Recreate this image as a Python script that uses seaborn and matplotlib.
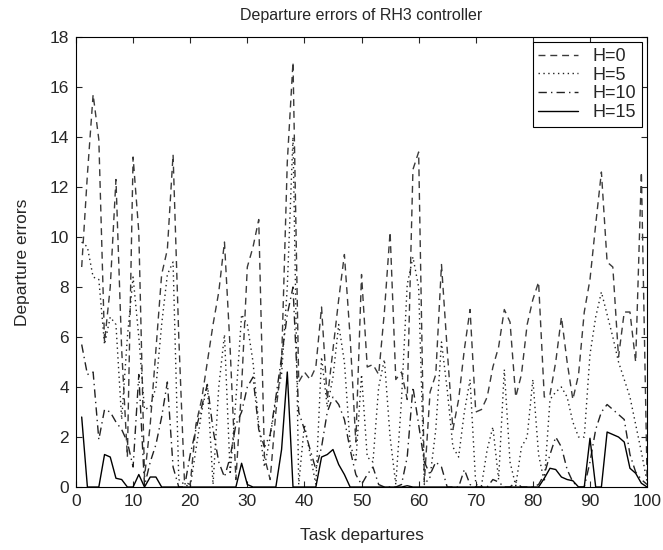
import numpy as np
import pandas as pd
import matplotlib
matplotlib.use("Agg")
import matplotlib.pyplot as plt
import seaborn as sns

# task departure index
tasks = list(range(1, 101))

# departure errors
h0 = [8.8, 12.5, 15.7, 13.9, 5.8, 8.0, 12.3, 5.5, 1.2, 13.2,
      10.2, 0.4, 2.5, 5.5, 8.5, 9.5, 13.3, 6.0, 0.2, 0.1,
      2.5, 3.5, 5.0, 6.5, 7.8, 9.8, 5.5, 0.3, 4.0, 8.8,
      9.6, 10.7, 1.2, 0.3, 3.0, 5.0, 13.0, 17.0, 4.2, 4.6,
      4.3, 4.8, 7.2, 3.5, 5.5, 7.5, 9.3, 6.0, 1.8, 8.5,
      4.8, 4.9, 4.5, 7.0, 10.2, 4.3, 4.6, 3.5, 12.7, 13.4,
      0.2, 3.8, 4.5, 8.9, 5.5, 2.3, 3.5, 5.5, 7.1, 3.0,
      3.1, 3.6, 4.8, 5.6, 7.1, 6.6, 3.6, 4.5, 6.5, 7.5,
      8.2, 3.6, 3.7, 5.0, 6.8, 5.0, 3.5, 4.5, 7.0, 8.3,
      10.5, 12.6, 9.0, 8.8, 5.2, 7.0, 7.0, 5.0, 12.6, 0.3]

h5 = [9.8, 9.6, 8.4, 8.3, 5.7, 6.8, 6.5, 2.7, 6.0, 8.4,
      6.0, 3.1, 3.2, 4.0, 6.5, 8.5, 9.0, 0.3, 0.1, 0.0,
      1.5, 3.0, 4.1, 0.1, 4.0, 6.1, 0.5, 3.5, 6.9, 6.5,
      5.0, 2.5, 0.8, 2.0, 3.5, 4.5, 8.0, 14.0, 0.1, 2.5,
      1.3, 0.1, 5.2, 3.2, 4.4, 6.5, 5.0, 1.7, 1.0, 4.5,
      1.2, 1.0, 4.0, 5.1, 2.0, 0.1, 3.5, 8.1, 9.2, 8.0,
      0.1, 0.4, 2.3, 5.8, 3.9, 1.6, 1.2, 3.0, 4.3, 0.1,
      0.05, 1.5, 2.4, 0.3, 4.7, 1.0, 0.05, 1.6, 2.0, 4.3,
      1.3, 0.2, 3.5, 3.8, 4.0, 3.6, 2.6, 2.0, 2.0, 5.3,
      6.8, 7.8, 6.9, 6.0, 5.0, 4.3, 3.6, 2.5, 1.4, 0.2]

h10 = [5.7, 4.5, 4.6, 1.9, 3.1, 3.0, 2.6, 2.3, 1.8, 0.8,
       4.5, 0.05, 1.0, 1.7, 2.8, 4.2, 0.8, 0.0, 0.0, 1.3,
       2.3, 3.2, 4.1, 2.3, 1.0, 0.4, 1.2, 2.5, 3.0, 4.0,
       4.4, 2.3, 1.6, 2.1, 3.6, 5.2, 6.9, 8.0, 3.0, 2.3,
       1.5, 0.7, 1.6, 3.0, 3.6, 3.3, 2.7, 1.5, 0.5, 0.1,
       0.5, 0.8, 0.1, 0.0, 0.0, 0.0, 0.1, 1.2, 4.0, 2.5,
       1.0, 0.5, 1.0, 0.8, 0.0, 0.0, 0.0, 0.7, 0.1, 0.0,
       0.0, 0.0, 0.3, 0.2, 0.0, 0.0, 0.2, 0.0, 0.0, 0.0,
       0.1, 0.5, 1.3, 2.0, 1.6, 0.7, 0.2, 0.0, 0.0, 1.0,
       2.3, 3.0, 3.3, 3.1, 2.9, 2.7, 1.3, 0.6, 0.3, 0.1]

h15 = [2.8, 0.0, 0.0, 0.0, 1.3, 1.2, 0.35, 0.3, 0.0, 0.0,
       0.5, 0.0, 0.4, 0.4, 0.0, 0.0, 0.0, 0.0, 0.0, 0.0,
       0.0, 0.0, 0.0, 0.0, 0.0, 0.0, 0.0, 0.0, 0.95, 0.1,
       0.0, 0.0, 0.0, 0.0, 0.0, 1.5, 4.6, 0.0, 0.0, 0.0,
       0.0, 0.0, 1.2, 1.3, 1.5, 0.9, 0.5, 0.0, 0.0, 0.0,
       0.0, 0.0, 0.0, 0.0, 0.0, 0.0, 0.0, 0.05, 0.0, 0.0,
       0.0, 0.0, 0.0, 0.0, 0.0, 0.0, 0.0, 0.0, 0.0, 0.0,
       0.0, 0.0, 0.0, 0.0, 0.0, 0.0, 0.0, 0.0, 0.0, 0.0,
       0.0, 0.35, 0.75, 0.7, 0.4, 0.3, 0.25, 0.0, 0.0, 1.95,
       0.0, 0.0, 2.2, 2.1, 2.0, 1.8, 0.75, 0.55, 0.15, 0.0]

labels = ["H=0", "H=5", "H=10", "H=15"]
series = [h0, h5, h10, h15]
styles = [(0, (5, 3.5)), (0, (1, 2.5)), (0, (6, 3, 1, 3)), "-"]
colors = ["#3a3a3a", "#222222", "#222222", "#000000"]

sns.set_style("ticks")
plt.rcParams["font.family"] = ["Liberation Sans", "DejaVu Sans"]

fig = plt.figure(figsize=(6.63, 5.5), dpi=100)
ax = fig.add_axes([0.1146, 0.1145, 0.8614, 0.8182])

for lab, ys, ls, c in zip(labels, series, styles, colors):
    df = pd.DataFrame({"task": tasks, "err": ys})
    sns.lineplot(data=df, x="task", y="err", ax=ax, color=c,
                 linestyle=ls, linewidth=1.0, label=lab)

ax.set_xlim(0, 100)
ax.set_ylim(0, 18)
ax.set_xticks(np.arange(0, 101, 10))
ax.set_yticks(np.arange(0, 19, 2))
ax.tick_params(direction="in", top=True, right=True, length=4,
               labelsize=12.5, width=0.8, pad=5)
for s in ax.spines.values():
    s.set_linewidth(0.8)
    s.set_color("black")

ax.set_title("Departure errors of RH3 controller", fontsize=11.5, pad=12)
ax.set_xlabel("Task departures", fontsize=12.5, labelpad=14)
ax.set_ylabel("Departure errors", fontsize=12.5, labelpad=14)

leg = ax.legend(loc="upper right", fontsize=13, fancybox=False,
                edgecolor="black", framealpha=1, handlelength=2.2,
                borderaxespad=0.3, labelspacing=0.1, borderpad=0.3)
leg.get_frame().set_linewidth(0.8)

fig.savefig("out.png", dpi=100)
